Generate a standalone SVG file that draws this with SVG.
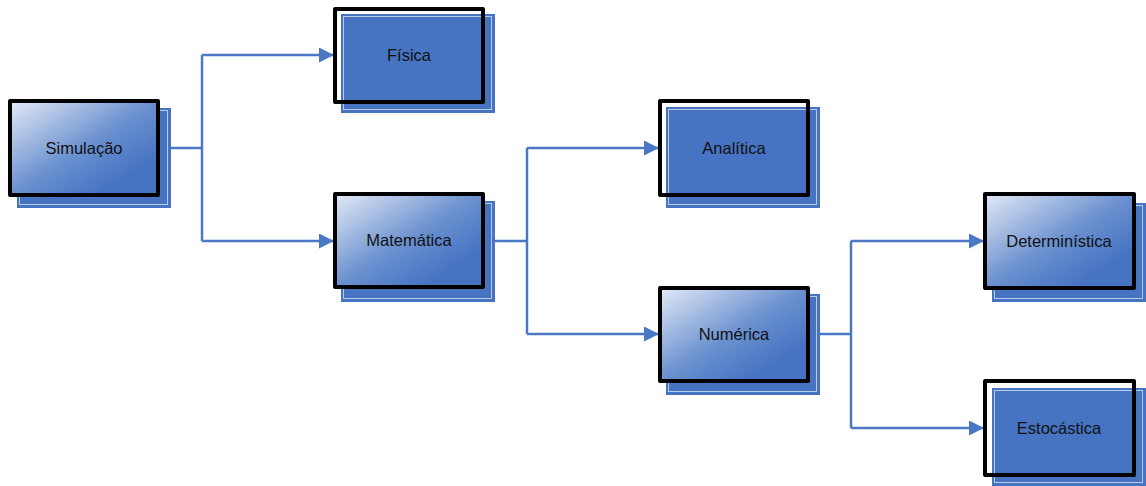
<svg xmlns="http://www.w3.org/2000/svg" width="1146" height="486" viewBox="0 0 1146 486">
  <style>
    .frame { fill: none; stroke: #000; stroke-width: 4; stroke-linejoin: round; }
    .frame-grad { fill: url(#boxGrad); stroke: #000; stroke-width: 4; stroke-linejoin: round; }
    .back { fill: #4673c2; }
    .back-line { fill: none; stroke: #dfe7f4; stroke-width: 1; opacity: 0.75; }
    .label { font-family: "Liberation Sans", Arial, sans-serif; font-size: 16.5px; fill: #111; text-anchor: middle; dominant-baseline: central; }
    .conn { fill: none; stroke: #4a78c4; stroke-width: 2.5; }
  </style>
  <defs>
    <linearGradient id="boxGrad" x1="0" y1="0" x2="1" y2="1">
      <stop offset="0" stop-color="#e3eaf6"/>
      <stop offset="0.5" stop-color="#6a90cf"/>
      <stop offset="0.8" stop-color="#4673c2"/>
      <stop offset="1" stop-color="#4673c2"/>
    </linearGradient>
    <marker id="arrow" markerUnits="userSpaceOnUse" markerWidth="15" markerHeight="15" refX="15" refY="7.5" orient="auto">
      <path d="M0,0 L15,7.5 L0,15 Z" fill="#4a78c4"/>
    </marker>
  </defs>

  <!-- connectors -->
  <g id="connectors">
    <path class="conn" d="M158,148 H202"/>
    <path class="conn" d="M202,55 V241"/>
    <path class="conn" d="M202,55 H334" marker-end="url(#arrow)"/>
    <path class="conn" d="M202,241 H334" marker-end="url(#arrow)"/>
    <path class="conn" d="M484,241 H527"/>
    <path class="conn" d="M527,148 V334"/>
    <path class="conn" d="M527,148 H659" marker-end="url(#arrow)"/>
    <path class="conn" d="M527,334 H659" marker-end="url(#arrow)"/>
    <path class="conn" d="M809,334 H851"/>
    <path class="conn" d="M851,241 V428"/>
    <path class="conn" d="M851,241 H984" marker-end="url(#arrow)"/>
    <path class="conn" d="M851,428 H984" marker-end="url(#arrow)"/>
  </g>

  <!-- Simulação -->
  <g id="node-simulacao">
    <rect class="back" x="17" y="108" width="154" height="100"/>
    <rect class="back-line" x="19.5" y="110.5" width="148" height="94"/>
    <rect class="frame-grad" x="10" y="101" width="148" height="94"/>
    <text class="label" x="84" y="148">Simulação</text>
  </g>

  <!-- Física -->
  <g id="node-fisica">
    <rect class="back" x="341" y="14" width="154" height="99"/>
    <rect class="back-line" x="343.5" y="16.5" width="148" height="93"/>
    <rect class="frame" x="335" y="9" width="148" height="93"/>
    <text class="label" x="409" y="55">Física</text>
  </g>

  <!-- Matemática -->
  <g id="node-matematica">
    <rect class="back" x="341" y="201" width="154" height="101"/>
    <rect class="back-line" x="343.5" y="203.5" width="148" height="95"/>
    <rect class="frame-grad" x="335" y="194" width="148" height="93"/>
    <text class="label" x="409" y="240">Matemática</text>
  </g>

  <!-- Analítica -->
  <g id="node-analitica">
    <rect class="back" x="666" y="107" width="154" height="101"/>
    <rect class="back-line" x="668.5" y="109.5" width="148" height="95"/>
    <rect class="frame" x="660" y="101" width="148" height="94"/>
    <text class="label" x="734" y="148">Analítica</text>
  </g>

  <!-- Numérica -->
  <g id="node-numerica">
    <rect class="back" x="666" y="294" width="154" height="101"/>
    <rect class="back-line" x="668.5" y="296.5" width="148" height="95"/>
    <rect class="frame-grad" x="660" y="288" width="148" height="93"/>
    <text class="label" x="734" y="334">Numérica</text>
  </g>

  <!-- Determinística -->
  <g id="node-deterministica">
    <rect class="back" x="992" y="203" width="154" height="99"/>
    <rect class="back-line" x="994.5" y="205.5" width="148" height="93"/>
    <rect class="frame-grad" x="985" y="194" width="149" height="94"/>
    <text class="label" x="1059" y="241">Determinística</text>
  </g>

  <!-- Estocástica -->
  <g id="node-estocastica">
    <rect class="back" x="992" y="388" width="154" height="98"/>
    <rect class="back-line" x="994.5" y="390.5" width="148" height="92"/>
    <rect class="frame" x="985" y="381" width="149" height="94"/>
    <text class="label" x="1059" y="428">Estocástica</text>
  </g>
</svg>
